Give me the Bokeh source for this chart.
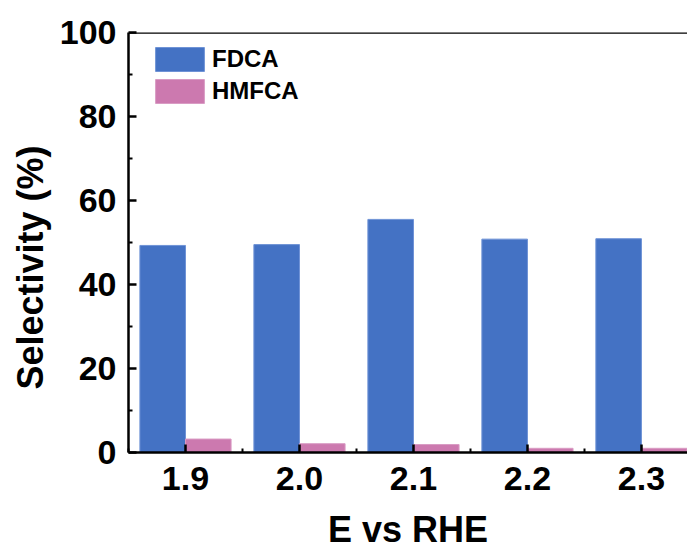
from bokeh.plotting import figure
from bokeh.models import ColumnDataSource, FixedTicker, Span, Legend, LegendItem, Range1d
from bokeh.transform import dodge
from bokeh.embed import file_html
from bokeh.resources import INLINE

potentials = [1.9, 2.0, 2.1, 2.2, 2.3]
tick_labels = ["1.9", "2.0", "2.1", "2.2", "2.3"]
fdca = [49.3, 49.5, 55.5, 50.8, 50.9]
hmfca = [3.2, 2.1, 1.9, 1.0, 1.0]
x_title = "E vs RHE"
y_title = "Selectivity (%)"

src = ColumnDataSource(dict(E=potentials, FDCA=fdca, HMFCA=hmfca))

p = figure(width=687, height=552, output_backend="svg", toolbar_location=None,
           x_range=Range1d(1.85, 2.3404), y_range=Range1d(0, 100),
           min_border_left=128, min_border_top=32, min_border_right=0, min_border_bottom=99)
p.outline_line_color = None
p.background_fill_color = "white"
p.border_fill_color = "white"
p.grid.visible = False

r1 = p.vbar(x=dodge("E", -0.02, range=p.x_range), top="FDCA", width=0.04, source=src,
            fill_color="#4472C4", line_color="#6f93d6", line_width=1)
r2 = p.vbar(x=dodge("E", 0.02, range=p.x_range), top="HMFCA", width=0.04, source=src,
            fill_color="#CC79AF", line_color="#d99cc4", line_width=1)

p.add_layout(Span(location=100, dimension="width", line_color="black", line_width=2.5))

FONT = "Liberation Sans"
p.xaxis.ticker = FixedTicker(ticks=potentials, minor_ticks=[1.85, 1.95, 2.05, 2.15, 2.25, 2.35])
p.xaxis.major_label_overrides = {v: s for v, s in zip(potentials, tick_labels)}
p.yaxis.ticker = FixedTicker(ticks=[0, 20, 40, 60, 80, 100], minor_ticks=[10, 30, 50, 70, 90])
for ax in (p.xaxis[0], p.yaxis[0]):
    ax.axis_line_width = 2.5
    ax.axis_line_color = "black"
    ax.major_tick_in = 8
    ax.major_tick_out = 0
    ax.minor_tick_in = 4
    ax.minor_tick_out = 0
    ax.major_tick_line_width = 2.5
    ax.minor_tick_line_width = 2
    ax.major_label_text_font = FONT
    ax.major_label_text_font_style = "bold"
    ax.major_label_text_font_size = "34px"
    ax.major_label_text_color = "black"
    ax.axis_label_text_font = FONT
    ax.axis_label_text_font_style = "bold"
    ax.axis_label_text_font_size = "36px"
    ax.axis_label_text_color = "black"
p.xaxis.major_label_standoff = 14
p.yaxis.major_label_standoff = 12
p.xaxis.axis_label = x_title
p.yaxis.axis_label = y_title + "\u00a0" * 5
p.xaxis.axis_label_standoff = 16
p.yaxis.axis_label_standoff = 6

legend = Legend(items=[LegendItem(label="FDCA", renderers=[r1]),
                       LegendItem(label="HMFCA", renderers=[r2])],
                location=(21, 346), background_fill_alpha=0, border_line_color=None,
                glyph_width=61, glyph_height=30, label_text_font=FONT,
                label_text_font_style="bold", label_text_font_size="24px",
                label_text_color="black",
                label_standoff=2, spacing=2, margin=0, padding=0, label_height=24)
p.add_layout(legend)

open("out.html", "w").write(file_html(p, INLINE))
